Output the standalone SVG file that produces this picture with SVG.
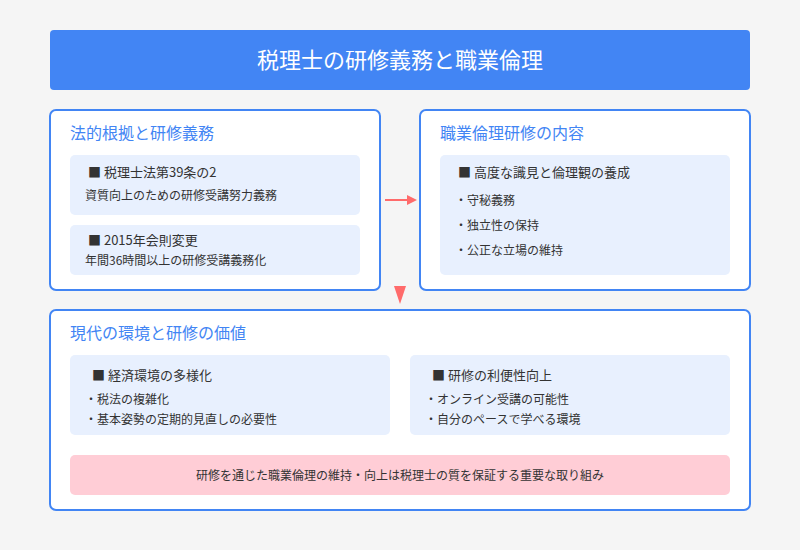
<svg xmlns="http://www.w3.org/2000/svg" width="800" height="550" viewBox="0 0 800 550">
<style>
text{font-family:"Noto Sans CJK JP","Noto Sans",sans-serif;fill:#333}
.card{fill:#fff;stroke:#4285f4;stroke-width:2}
.sub{fill:#e8f0fe}
.h{fill:#4285f4;font-size:16px}
.t{font-size:13px}
.s{font-size:12px}
</style>
<defs><marker id="ah" markerWidth="10" markerHeight="10" refX="8" refY="5" orient="auto" markerUnits="userSpaceOnUse"><path d="M0,0L10,5L0,10z" fill="#ff6b6b"/></marker></defs>
<rect width="800" height="550" fill="#f5f5f5"/>
<g id="title"><rect x="50" y="30" width="700" height="60" rx="4" fill="#4285f4"/><text x="400" y="68" text-anchor="middle" style="fill:#fff;font-size:22px">税理士の研修義務と職業倫理</text></g>
<g id="legal"><rect class="card" x="50" y="110" width="330" height="180" rx="6"/>
<text class="h" x="70" y="139">法的根拠と研修義務</text>
<rect class="sub" x="70" y="155" width="290" height="60" rx="5"/>
<text class="t" x="88" y="177">■ 税理士法第39条の2</text>
<text class="s" x="85" y="200">資質向上のための研修受講努力義務</text>
<rect class="sub" x="70" y="225" width="290" height="50" rx="5"/>
<text class="t" x="88" y="245">■ 2015年会則変更</text>
<text class="s" x="85" y="265">年間36時間以上の研修受講義務化</text></g>
<g id="ethics"><rect class="card" x="420" y="110" width="330" height="180" rx="6"/>
<text class="h" x="440" y="139">職業倫理研修の内容</text>
<rect class="sub" x="440" y="155" width="290" height="120" rx="5"/>
<text class="t" x="458" y="177">■ 高度な識見と倫理観の養成</text>
<text class="s" x="455" y="205">・守秘義務</text>
<text class="s" x="455" y="230">・独立性の保持</text>
<text class="s" x="455" y="255">・公正な立場の維持</text></g>
<g id="value"><rect class="card" x="50" y="310" width="700" height="200" rx="6"/>
<text class="h" x="70" y="339">現代の環境と研修の価値</text>
<rect class="sub" x="70" y="355" width="320" height="80" rx="5"/>
<text class="t" x="92" y="380">■ 経済環境の多様化</text>
<text class="s" x="85" y="404">・税法の複雑化</text>
<text class="s" x="85" y="424">・基本姿勢の定期的見直しの必要性</text>
<rect class="sub" x="410" y="355" width="320" height="80" rx="5"/>
<text class="t" x="432" y="380">■ 研修の利便性向上</text>
<text class="s" x="425" y="404">・オンライン受講の可能性</text>
<text class="s" x="425" y="424">・自分のペースで学べる環境</text>
<rect x="70" y="455" width="660" height="40" rx="5" fill="#ffcdd6"/>
<text class="s" x="400" y="480" text-anchor="middle">研修を通じた職業倫理の維持・向上は税理士の質を保証する重要な取り組み</text></g>
<g id="connectors"><line x1="385" y1="200" x2="415" y2="200" stroke="#ff6b6b" stroke-width="2" marker-end="url(#ah)"/>
<path d="M394,286L406,286L400,304z" fill="#ff6b6b"/></g>
</svg>
